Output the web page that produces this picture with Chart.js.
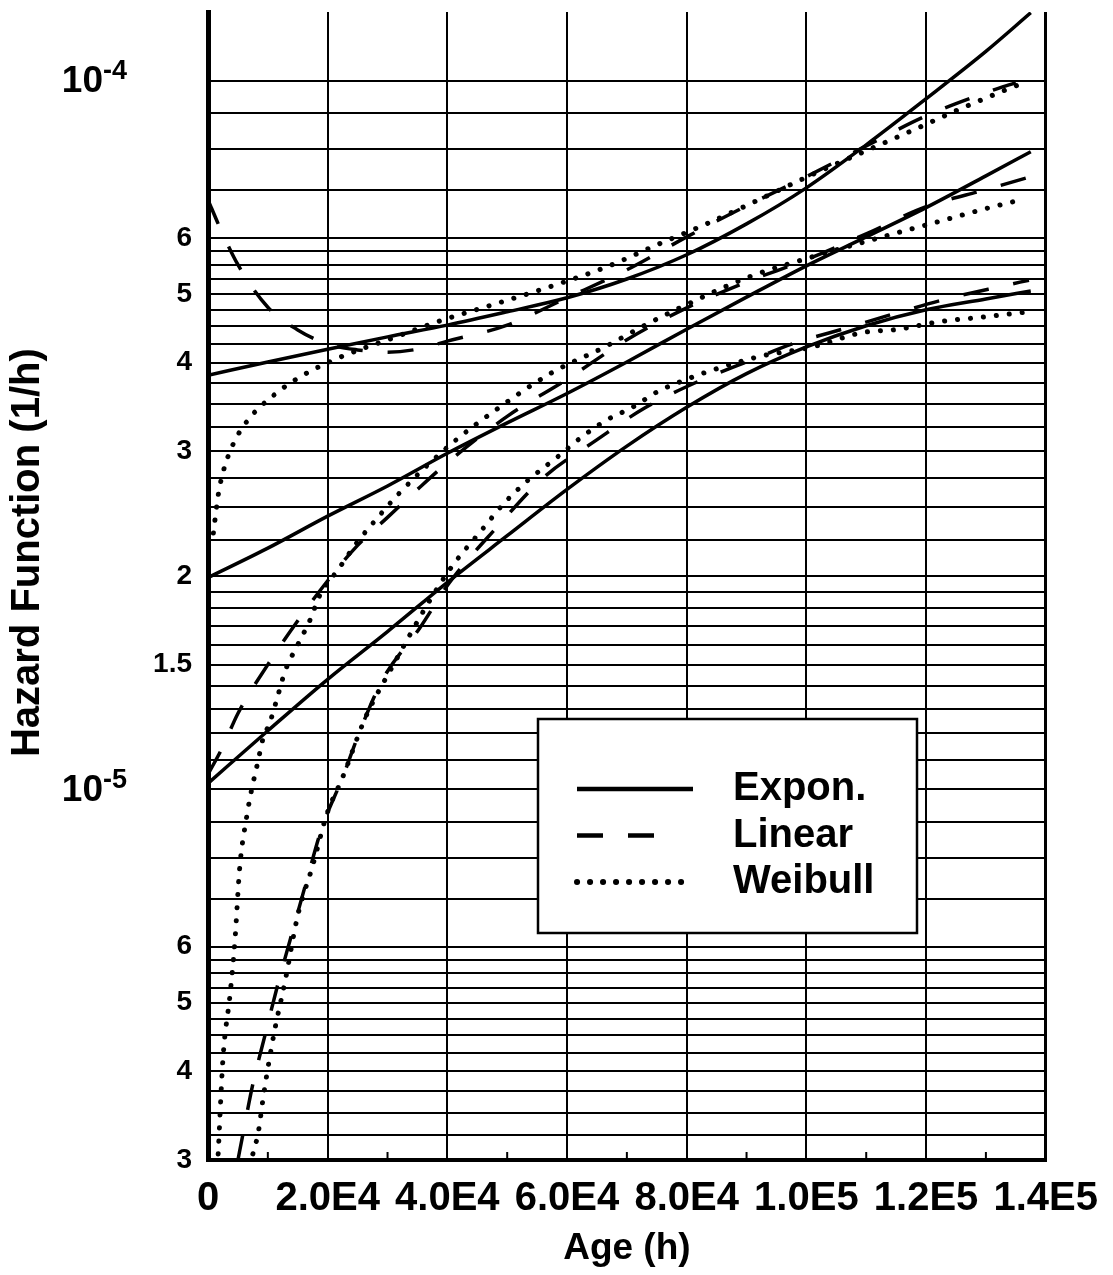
<!DOCTYPE html>
<html>
<head>
<meta charset="utf-8">
<title>Hazard Function vs Age</title>
<script src="https://cdn.jsdelivr.net/npm/chart.js@4.4.1/dist/chart.umd.min.js"></script>
<style>
  html, body { margin: 0; padding: 0; background: #fff; }
  #wrap { width: 1113px; height: 1275px; position: relative; }
</style>
</head>
<body>
<div id="wrap"><canvas id="hazard"></canvas></div>
<script>
// [age (h), hazard (1/h)]
const exponHigh = [[0, 3.84e-5], [1e4, 4.01e-5], [2e4, 4.18e-5], [3e4, 4.35e-5], [4e4, 4.52e-5], [5e4, 4.72e-5],
  [6e4, 4.94e-5], [7e4, 5.25e-5], [8e4, 5.68e-5], [9e4, 6.28e-5], [1e5, 7.06e-5], [1.1e5, 8.12e-5],
  [1.2e5, 9.43e-5], [1.3e5, 1.10e-4], [1.375e5, 1.247e-4]];
const linearHigh = [[0, 6.79e-5], [2000, 6.20e-5], [5000, 5.50e-5], [1e4, 4.79e-5], [1.5e4, 4.45e-5], [2e4, 4.25e-5],
  [2.5e4, 4.17e-5], [3e4, 4.14e-5], [3.5e4, 4.18e-5], [4e4, 4.29e-5], [5e4, 4.52e-5], [6e4, 4.94e-5],
  [7e4, 5.41e-5], [8e4, 6.02e-5], [9e4, 6.66e-5], [1e5, 7.32e-5], [1.1e5, 8.09e-5], [1.2e5, 8.92e-5],
  [1.3e5, 9.62e-5], [1.35e5, 9.94e-5]];
const weibullHigh = [[900, 2.30e-5], [1700, 2.60e-5], [2500, 2.80e-5], [4200, 3.07e-5], [6800, 3.33e-5],
  [11000, 3.60e-5], [15400, 3.82e-5], [21700, 4.06e-5], [30400, 4.32e-5], [38700, 4.58e-5], [47600, 4.83e-5],
  [55900, 5.08e-5], [66600, 5.46e-5], [75100, 5.87e-5], [83300, 6.28e-5], [91700, 6.77e-5], [100200, 7.32e-5],
  [108900, 7.89e-5], [117200, 8.47e-5], [125800, 9.13e-5], [134300, 9.78e-5], [136500, 9.94e-5]];

const exponMid = [[0, 1.99e-5], [1e4, 2.19e-5], [2e4, 2.43e-5], [3e4, 2.68e-5], [4e4, 2.98e-5], [5e4, 3.29e-5],
  [6e4, 3.62e-5], [7e4, 4.01e-5], [8e4, 4.46e-5], [9e4, 4.95e-5], [1e5, 5.48e-5], [1.1e5, 6.02e-5],
  [1.2e5, 6.62e-5], [1.3e5, 7.34e-5], [1.375e5, 7.94e-5]];
const linearMid = [[0, 1.05e-5], [2500, 1.15e-5], [5000, 1.28e-5], [1e4, 1.50e-5], [1.5e4, 1.73e-5], [2e4, 1.97e-5],
  [2.5e4, 2.21e-5], [3e4, 2.42e-5], [3.5e4, 2.65e-5], [4e4, 2.89e-5], [5e4, 3.36e-5], [6e4, 3.79e-5],
  [7e4, 4.31e-5], [8e4, 4.78e-5], [9e4, 5.20e-5], [1e5, 5.59e-5], [1.1e5, 6.08e-5], [1.2e5, 6.64e-5],
  [1.3e5, 7.02e-5], [1.37e5, 7.30e-5]];
const weibullMid = [[1700, 3.06e-6], [2500, 4.17e-6], [3700, 5.15e-6], [4500, 6.12e-6], [5300, 7.76e-6],
  [6500, 9.19e-6], [7300, 1.00e-5], [8300, 1.09e-5], [9200, 1.18e-5], [10300, 1.24e-5], [11500, 1.34e-5],
  [12900, 1.47e-5], [15000, 1.60e-5], [17000, 1.73e-5], [18700, 1.88e-5], [21700, 2.04e-5], [24900, 2.23e-5],
  [28200, 2.41e-5], [32000, 2.62e-5], [40400, 3.06e-5], [48700, 3.46e-5], [57400, 3.87e-5], [66300, 4.21e-5],
  [72400, 4.49e-5], [78400, 4.76e-5], [90500, 5.29e-5], [100300, 5.62e-5], [112700, 6.02e-5],
  [121300, 6.30e-5], [130000, 6.60e-5], [136500, 6.81e-5]];

const exponLow = [[0, 1.02e-5], [1e4, 1.21e-5], [2e4, 1.43e-5], [3e4, 1.67e-5], [4e4, 1.96e-5], [5e4, 2.28e-5],
  [6e4, 2.65e-5], [7e4, 3.05e-5], [8e4, 3.46e-5], [9e4, 3.86e-5], [1e5, 4.21e-5], [1.1e5, 4.51e-5],
  [1.2e5, 4.75e-5], [1.3e5, 4.92e-5], [1.375e5, 5.05e-5]];
const linearLow = [[5000, 3.0e-6], [5800, 3.25e-6], [7500, 3.84e-6], [9500, 4.49e-6], [11700, 5.32e-6],
  [13700, 6.12e-6], [16500, 7.44e-6], [19000, 8.81e-6], [22500, 1.04e-5], [25400, 1.21e-5], [29200, 1.43e-5],
  [35400, 1.69e-5], [40400, 1.96e-5], [48200, 2.34e-5], [56200, 2.76e-5], [64900, 3.11e-5], [72900, 3.45e-5],
  [81800, 3.76e-5], [90000, 4.01e-5], [98300, 4.27e-5], [106800, 4.48e-5], [115800, 4.72e-5],
  [124200, 4.94e-5], [132700, 5.13e-5], [137200, 5.23e-5]];
const weibullLow = [[7500, 3.06e-6], [8400, 3.28e-6], [9200, 3.66e-6], [10000, 4.04e-6], [11200, 4.60e-6],
  [12900, 5.37e-6], [15000, 6.64e-6], [17500, 7.81e-6], [19900, 9.25e-6], [22500, 1.04e-5], [25900, 1.24e-5],
  [27000, 1.30e-5], [31000, 1.50e-5], [36600, 1.82e-5], [40700, 2.06e-5], [45700, 2.32e-5], [49600, 2.54e-5],
  [53700, 2.74e-5], [58300, 2.94e-5], [62400, 3.14e-5], [66600, 3.32e-5], [70900, 3.46e-5], [75100, 3.64e-5],
  [79600, 3.78e-5], [83300, 3.88e-5], [92100, 4.08e-5], [101000, 4.21e-5], [109300, 4.41e-5],
  [115500, 4.46e-5], [122200, 4.57e-5], [128500, 4.63e-5], [137200, 4.72e-5]];

// axes
const ageTicks = [0, 2e4, 4e4, 6e4, 8e4, 1e5, 1.2e5, 1.4e5];
const ageTickLabels = ['0', '2.0E4', '4.0E4', '6.0E4', '8.0E4', '1.0E5', '1.2E5', '1.4E5'];
const ageMinorTicks = [1e4, 3e4, 5e4, 7e4, 9e4, 1.1e5, 1.3e5];
const hazardMin = 3e-6;
const hazardMax = 1.25e-4;
const gridMantissasLow = [3, 3.25, 3.5, 3.75, 4, 4.25, 4.5, 4.75, 5, 5.25, 5.5, 5.75, 6, 7, 8, 9];   // x 1e-6
const gridMantissasHigh = [1, 1.1, 1.2, 1.3, 1.4, 1.5, 1.6, 1.7, 1.8, 1.9, 2, 2.25, 2.5, 2.75, 3, 3.25, 3.5, 3.75,
  4, 4.25, 4.5, 4.75, 5, 5.25, 5.5, 5.75, 6, 7, 8, 9, 10];                                            // x 1e-5
const hazardLabelValues = [3e-6, 4e-6, 5e-6, 6e-6, 1.5e-5, 2e-5, 3e-5, 4e-5, 5e-5, 6e-5];
const hazardLabelTexts = ['3', '4', '5', '6', '1.5', '2', '3', '4', '5', '6'];
const decadeValues = [1e-5, 1e-4];
const decadeExponents = ['-5', '-4'];
const legendLabels = ['Expon.', 'Linear', 'Weibull'];

const hazardGrid = gridMantissasLow.map(m => m * 1e-6).concat(gridMantissasHigh.map(m => m * 1e-5));
const same = (a, b) => Math.abs(a - b) <= b * 1e-6;
const labelIndex = v => hazardLabelValues.findIndex(h => same(v, h));

const FONT = "'Liberation Sans', Arial, Helvetica, sans-serif";
const solid = { borderDash: [], borderWidth: 3.5, borderCapStyle: 'butt' };
const dashed = { borderDash: [26, 25], borderWidth: 3.5, borderCapStyle: 'butt' };
const dotted = { borderDash: [0.1, 12.9], borderWidth: 5, borderCapStyle: 'round' };

function series(pairs, style) {
  return Object.assign({
    data: pairs.map(([x, y]) => ({ x, y })),
    borderColor: '#000',
    borderJoinStyle: 'round',
    pointRadius: 0,
    fill: false,
    cubicInterpolationMode: 'monotone'
  }, style);
}

const minorTicks = {
  id: 'minorTicks',
  beforeDatasetsDraw(chart) {
    const { ctx, chartArea, scales } = chart;
    ctx.save();
    ctx.strokeStyle = '#000';
    ctx.lineWidth = 2;
    ageMinorTicks.forEach(v => {
      const px = scales.x.getPixelForValue(v);
      ctx.beginPath();
      ctx.moveTo(px, chartArea.bottom);
      ctx.lineTo(px, chartArea.bottom - 8);
      ctx.stroke();
    });
    ctx.restore();
  }
};

// "10" with a raised exponent, like the printed axis
const decadeLabels = {
  id: 'decadeLabels',
  afterDraw(chart) {
    const { ctx, chartArea, scales } = chart;
    const right = chartArea.left - 81;
    ctx.save();
    ctx.fillStyle = '#000';
    ctx.textBaseline = 'middle';
    ctx.textAlign = 'left';
    decadeValues.forEach((v, i) => {
      const y = scales.y.getPixelForValue(v);
      ctx.font = 'bold 27px ' + FONT;
      const ew = ctx.measureText(decadeExponents[i]).width;
      ctx.fillText(decadeExponents[i], right - ew, y - 9);
      ctx.font = 'bold 37px ' + FONT;
      const bw = ctx.measureText('10').width;
      ctx.fillText('10', right - ew - bw, y + 1);
    });
    ctx.restore();
  }
};

const boxLegend = {
  id: 'boxLegend',
  afterDatasetsDraw(chart, args, opts) {
    const ctx = chart.ctx;
    const b = opts.box;
    ctx.save();
    ctx.fillStyle = '#fff';
    ctx.fillRect(b.x, b.y, b.w, b.h);
    ctx.lineWidth = 2.5;
    ctx.strokeStyle = '#000';
    ctx.strokeRect(b.x, b.y, b.w, b.h);
    legendLabels.forEach((text, i) => {
      const ds = chart.data.datasets[i];
      const y = b.y + opts.firstRow + i * opts.rowGap;
      ctx.beginPath();
      ctx.setLineDash(ds.borderDash);
      ctx.lineCap = ds.borderCapStyle;
      ctx.lineWidth = ds.borderWidth + 1;
      ctx.moveTo(b.x + opts.sampleStart, y);
      ctx.lineTo(b.x + opts.sampleEnd[i], y);
      ctx.stroke();
      ctx.setLineDash([]);
      ctx.fillStyle = '#000';
      ctx.font = 'bold 40px ' + FONT;
      ctx.textBaseline = 'middle';
      ctx.textAlign = 'left';
      ctx.fillText(text, b.x + opts.textX, y);
    });
    ctx.restore();
  }
};

Chart.defaults.font.family = FONT;
Chart.defaults.color = '#000';

new Chart(document.getElementById('hazard'), {
  type: 'line',
  data: {
    datasets: [
      series(exponHigh, solid), series(linearHigh, dashed), series(weibullHigh, dotted),
      series(exponMid, solid), series(linearMid, dashed), series(weibullMid, dotted),
      series(exponLow, solid), series(linearLow, dashed), series(weibullLow, dotted)
    ]
  },
  options: {
    responsive: true,
    maintainAspectRatio: false,
    animation: false,
    layout: { padding: { top: 12, right: 66, bottom: 0, left: 0 } },
    plugins: {
      legend: { display: false },
      tooltip: { enabled: false },
      boxLegend: {
        box: { x: 538, y: 719, w: 379, h: 214 },
        firstRow: 70, rowGap: 46.5,
        sampleStart: 39, sampleEnd: [155, 117, 145],
        textX: 195
      }
    },
    scales: {
      x: {
        type: 'linear',
        min: 0,
        max: 1.4e5,
        afterBuildTicks: scale => { scale.ticks = ageTicks.map(value => ({ value })); },
        afterFit: scale => { scale.height = 115; },
        ticks: {
          autoSkip: false,
          maxRotation: 0,
          padding: 15,
          font: { size: 40, weight: 'bold' },
          callback: value => ageTickLabels[ageTicks.indexOf(value)]
        },
        grid: {
          color: '#000',
          lineWidth: c => (c.tick && c.tick.value === 1.4e5 ? 3 : 2),
          drawTicks: false
        },
        border: { display: true, color: '#000', width: 4 },
        title: { display: true, text: 'Age (h)', font: { size: 37, weight: 'bold' }, padding: { top: 4, bottom: 4 } }
      },
      y: {
        type: 'logarithmic',
        min: hazardMin,
        max: hazardMax,
        afterBuildTicks: scale => {
          scale.ticks = hazardGrid.concat([hazardMax]).map(value => ({ value }));
        },
        afterFit: scale => {
          scale.width = 208;
          scale.paddingTop = 0;
          scale.paddingBottom = 0;
        },
        ticks: {
          autoSkip: false,
          padding: 16,
          font: c => (c.tick && same(c.tick.value, hazardMax) ? { size: 1 } : { size: 28, weight: 'bold' }),
          callback: value => {
            const i = labelIndex(value);
            return i < 0 ? '' : hazardLabelTexts[i];
          }
        },
        grid: {
          color: c => (c.tick && !same(c.tick.value, hazardMax) ? '#000' : 'rgba(0,0,0,0)'),
          lineWidth: 2,
          drawTicks: false
        },
        border: { display: true, color: '#000', width: 5 },
        title: {
          display: true,
          text: '      Hazard Function (1/h)',
          font: { size: 40, weight: 'bold' },
          padding: { top: 4, bottom: 4 }
        }
      }
    }
  },
  plugins: [minorTicks, boxLegend, decadeLabels]
});
</script>
</body>
</html>
